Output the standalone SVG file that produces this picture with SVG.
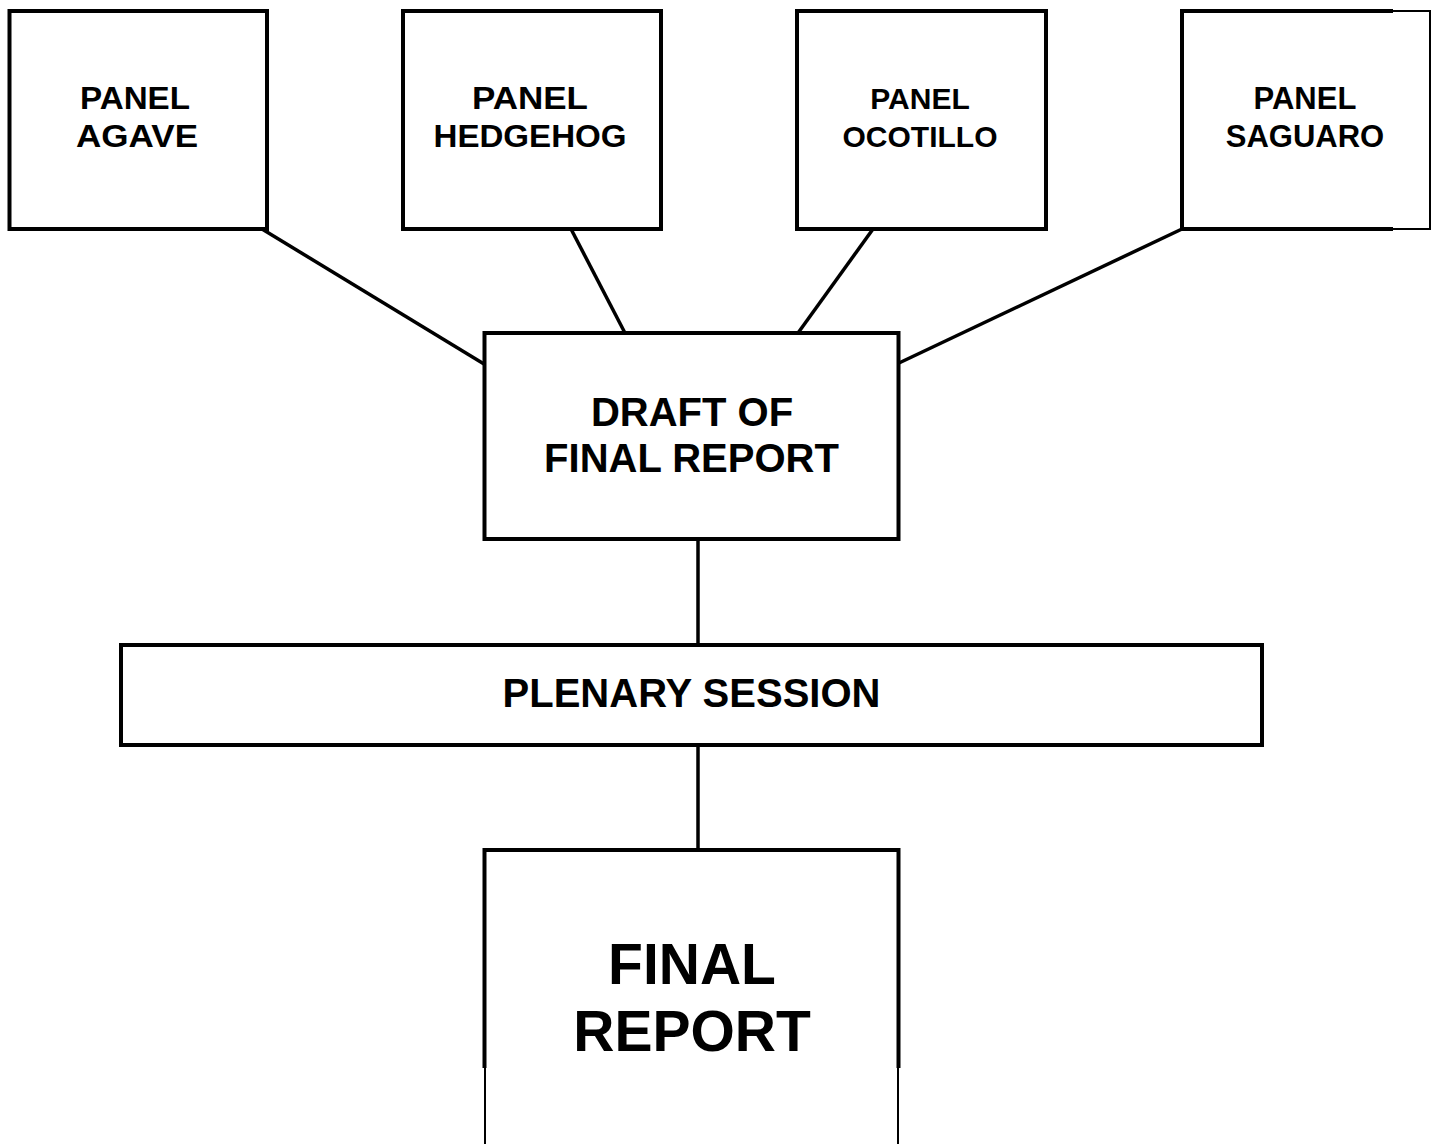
<svg xmlns="http://www.w3.org/2000/svg" width="1437" height="1144" viewBox="0 0 1437 1144">
<style>
.box{fill:#fff;stroke:#000;stroke-width:4}
.edge{fill:none;stroke:#000;stroke-width:4}
.thin{fill:none;stroke:#000;stroke-width:2}
.conn{fill:none;stroke:#000;stroke-width:3.5}
text{font-family:"Liberation Sans",Arial,sans-serif;font-weight:bold;fill:#000;text-anchor:middle}
.p1{font-size:32px}
.p2{font-size:30px}
.p3{font-size:31px}
.mid{font-size:40px}
.big{font-size:57px}
</style>
<rect width="1437" height="1144" fill="#fff"/>
<g id="connectors">
<line class="conn" x1="262" y1="229" x2="484" y2="364"/>
<line class="conn" x1="571" y1="229" x2="625" y2="333"/>
<line class="conn" x1="873" y1="229" x2="798" y2="333"/>
<line class="conn" x1="1182" y1="229" x2="899" y2="363"/>
<line class="conn" x1="698" y1="539" x2="698" y2="645"/>
<line class="conn" x1="698" y1="745" x2="698" y2="850"/>
</g>
<g id="panel-agave">
<rect class="box" x="9.5" y="11" width="257.5" height="218"/>
<text class="p1" x="135" y="109" textLength="110" lengthAdjust="spacingAndGlyphs">PANEL</text>
<text class="p1" x="137" y="147" textLength="122" lengthAdjust="spacingAndGlyphs">AGAVE</text>
</g>
<g id="panel-hedgehog">
<rect class="box" x="403" y="11" width="258" height="218"/>
<text class="p1" x="530" y="109" textLength="116" lengthAdjust="spacingAndGlyphs">PANEL</text>
<text class="p1" x="530" y="147" textLength="193" lengthAdjust="spacingAndGlyphs">HEDGEHOG</text>
</g>
<g id="panel-ocotillo">
<rect class="box" x="797" y="11" width="249" height="218"/>
<text class="p2" x="920" y="109">PANEL</text>
<text class="p2" x="920" y="147">OCOTILLO</text>
</g>
<g id="panel-saguaro">
<rect x="1182" y="11" width="248" height="218" fill="#fff"/>
<path class="edge" d="M1393,11 H1182 V229 H1393"/>
<path class="thin" d="M1393,11 H1430 V229 H1393"/>
<text class="p3" x="1305" y="109">PANEL</text>
<text class="p3" x="1305" y="147">SAGUARO</text>
</g>
<g id="draft">
<rect class="box" x="484.5" y="333" width="414" height="206"/>
<text class="mid" x="692" y="426">DRAFT OF</text>
<text class="mid" x="691.5" y="472">FINAL REPORT</text>
</g>
<g id="plenary">
<rect class="box" x="121" y="645" width="1141" height="100"/>
<text class="mid" x="691.5" y="707">PLENARY SESSION</text>
</g>
<g id="final-report">
<path class="edge" d="M484.5,1068 V850 H898.5 V1068"/>
<path class="thin" d="M485,1068 V1144 M898,1068 V1144"/>
<text class="big" x="692" y="984">FINAL</text>
<text class="big" x="692" y="1051">REPORT</text>
</g>
</svg>
